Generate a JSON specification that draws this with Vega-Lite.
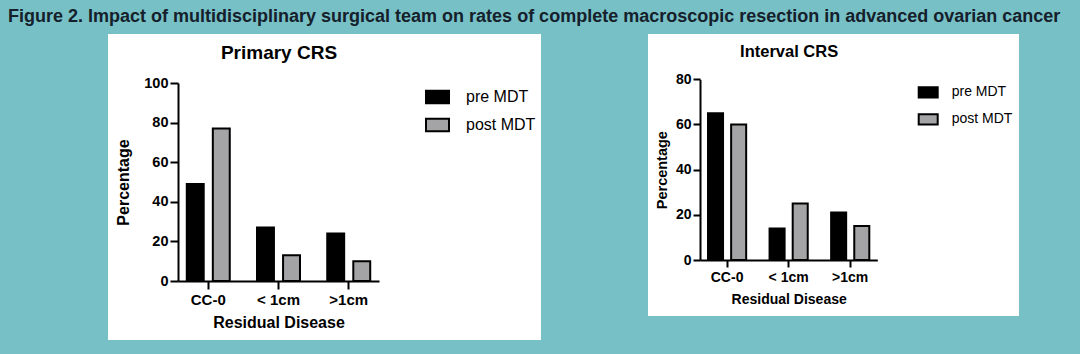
{
  "$schema": "https://vega.github.io/schema/vega-lite/v6.json",
  "background": "#76c0c6",
  "padding": {"left": 8, "top": 8, "right": 61, "bottom": 14},
  "title": {
    "text": "Figure 2. Impact of multidisciplinary surgical team on rates of complete macroscopic resection in advanced ovarian cancer",
    "anchor": "start", "dx": -100, "fontSize": 18, "font": "Liberation Sans", "fontWeight": "bold",
    "color": "#15202b", "baseline": "top", "offset": 8
  },
  "config": {
    "view": {"stroke": null, "fill": "white"},
    "font": "Liberation Sans",
    "axis": {
      "grid": false, "domainColor": "black", "domainWidth": 2, "tickColor": "black", "tickWidth": 2,
      "labelColor": "black", "labelFontWeight": "bold", "labelFont": "Liberation Sans",
      "titleColor": "black", "titleFontWeight": "bold", "titleFont": "Liberation Sans",
      "minExtent": 0, "labelAngle": 0
    },
    "legend": {"labelFont": "Liberation Sans", "labelColor": "black", "padding": 0}
  },
  "spacing": 107,
  "resolve": {
    "scale": {"x": "independent", "y": "independent", "xOffset": "independent", "fill": "independent"},
    "legend": {"fill": "independent"},
    "axis": {"x": "independent", "y": "independent"}
  },
  "hconcat": [
    {
      "width": 433, "height": 306,
      "data": {"values": [
        {"cat": "CC-0", "group": "pre MDT", "pct": 49},
        {"cat": "CC-0", "group": "post MDT", "pct": 77},
        {"cat": "< 1cm", "group": "pre MDT", "pct": 27},
        {"cat": "< 1cm", "group": "post MDT", "pct": 13},
        {"cat": ">1cm", "group": "pre MDT", "pct": 24},
        {"cat": ">1cm", "group": "post MDT", "pct": 10}
      ]},
      "resolve": {"axis": {"x": "independent"}},
      "layer": [
        {
          "mark": {"type": "bar", "stroke": "black", "strokeWidth": 2},
          "encoding": {
            "x": {
              "field": "cat", "type": "nominal", "sort": ["CC-0", "< 1cm", ">1cm"],
              "scale": {"range": [70, 271], "paddingInner": 0.388, "paddingOuter": 0.125},
              "axis": {"orient": "bottom", "offset": -59, "tickSize": 8, "labelPadding": 3, "labelFontSize": 15, "title": "Residual Disease", "titleFontSize": 16, "titlePadding": 7}
            },
            "xOffset": {"field": "group", "type": "nominal", "sort": ["pre MDT", "post MDT"], "scale": {"paddingInner": 0.35, "paddingOuter": 0}},
            "y": {
              "field": "pct", "type": "quantitative",
              "scale": {"domain": [0, 100], "range": [247, 49], "nice": false},
              "axis": {"offset": -70, "values": [0, 20, 40, 60, 80, 100], "tickSize": 8, "labelPadding": 2, "labelFontSize": 14.5, "title": "Percentage", "titleFontSize": 16, "titlePadding": 12}
            },
            "fill": {
              "field": "group", "type": "nominal", "sort": ["pre MDT", "post MDT"],
              "scale": {"domain": ["pre MDT", "post MDT"], "range": ["black", "#a4a4a7"]},
              "legend": {"orient": "none", "legendX": 317, "legendY": 50.5, "title": null, "symbolType": "M-1,-0.54H1V0.54H-1Z", "symbolSize": 529, "symbolStrokeColor": "black", "symbolStrokeWidth": 2, "symbolOpacity": 1, "labelFontSize": 16, "labelOffset": 16, "rowPadding": 5}
            }
          }
        },
        {
          "mark": {"type": "point", "opacity": 0},
          "encoding": {
            "x": {
              "field": "cat", "type": "nominal", "sort": ["CC-0", "< 1cm", ">1cm"],
              "axis": {"orient": "top", "offset": -18.7, "domain": false, "ticks": false, "labels": false, "title": "Primary CRS", "titleFontSize": 19, "titleBaseline": "middle", "titlePadding": 0}
            }
          }
        }
      ]
    },
    {
      "width": 371, "height": 282,
      "data": {"values": [
        {"cat": "CC-0", "group": "pre MDT", "pct": 65},
        {"cat": "CC-0", "group": "post MDT", "pct": 60},
        {"cat": "< 1cm", "group": "pre MDT", "pct": 14},
        {"cat": "< 1cm", "group": "post MDT", "pct": 25},
        {"cat": ">1cm", "group": "pre MDT", "pct": 21},
        {"cat": ">1cm", "group": "post MDT", "pct": 15}
      ]},
      "resolve": {"axis": {"x": "independent"}},
      "layer": [
        {
          "mark": {"type": "bar", "stroke": "black", "strokeWidth": 2},
          "encoding": {
            "x": {
              "field": "cat", "type": "nominal", "sort": ["CC-0", "< 1cm", ">1cm"],
              "scale": {"range": [52, 229.3], "paddingInner": 0.38, "paddingOuter": 0.13},
              "axis": {"orient": "bottom", "offset": -56, "tickSize": 7, "labelPadding": 3, "labelFontSize": 14, "title": "Residual Disease", "titleFontSize": 14, "titlePadding": 8}
            },
            "xOffset": {"field": "group", "type": "nominal", "sort": ["pre MDT", "post MDT"], "scale": {"paddingInner": 0.35, "paddingOuter": 0}},
            "y": {
              "field": "pct", "type": "quantitative",
              "scale": {"domain": [0, 80], "range": [226, 45.3], "nice": false},
              "axis": {"offset": -52, "values": [0, 20, 40, 60, 80], "tickSize": 7, "labelPadding": 2, "labelFontSize": 14, "title": "Percentage", "titleFontSize": 14.5, "titlePadding": 6}
            },
            "fill": {
              "field": "group", "type": "nominal", "sort": ["pre MDT", "post MDT"],
              "scale": {"domain": ["pre MDT", "post MDT"], "range": ["black", "#a4a4a7"]},
              "legend": {"orient": "none", "legendX": 269.7, "legendY": 47.8, "title": null, "symbolType": "M-1,-0.54H1V0.54H-1Z", "symbolSize": 361, "symbolStrokeColor": "black", "symbolStrokeWidth": 2, "symbolOpacity": 1, "labelFontSize": 14, "labelOffset": 13, "rowPadding": 7}
            }
          }
        },
        {
          "mark": {"type": "point", "opacity": 0},
          "encoding": {
            "x": {
              "field": "cat", "type": "nominal", "sort": ["CC-0", "< 1cm", ">1cm"],
              "axis": {"orient": "top", "offset": -17.7, "domain": false, "ticks": false, "labels": false, "title": "Interval CRS", "titleFontSize": 16.5, "titleBaseline": "middle", "titlePadding": 0}
            }
          }
        }
      ]
    }
  ]
}
